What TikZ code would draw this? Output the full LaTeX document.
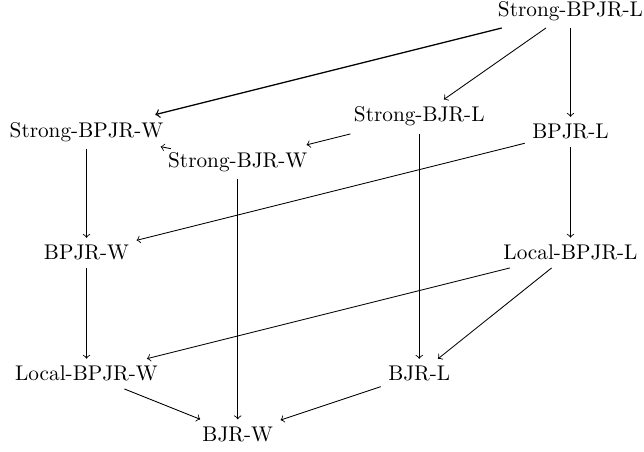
\documentclass[tikz,border=0pt]{standalone}
\begin{document}
\begin{tikzpicture}
		\useasboundingbox (-1.43,-0.276) rectangle (9.215,7.179);

		\path (8,7)      node (sbpjrl) {Strong-BPJR-L};
		\path (0,5)      node (sbpjrw) {Strong-BPJR-W};
		\path (5.5,5.25) node (sbjrl)  {Strong-BJR-L};
		\path (8,5)      node (bpjrl)  {BPJR-L};
		\path (2.5,4.5)  node (sbjrw)  {Strong-BJR-W};
		\path (0,3)      node (bpjrw)  {BPJR-W};
		\path (8,3)      node (lbpjrl) {Local-BPJR-L};
		\path (0,1)      node (lbpjrw) {Local-BPJR-W};
		\path (5.5,1)    node (bjrl)   {BJR-L};
		\path (2.5,0)    node (bjrw)   {BJR-W};

		\path[draw,->,line width=0.6pt] (sbpjrl) -- (sbpjrw);
		\path[draw,->] (sbpjrl) -- (sbjrl);
		\path[draw,->] (sbpjrl) -- (bpjrl);
		\path[draw,->] (sbpjrw) -- (sbjrw);
		\path[draw,->] (sbpjrw) -- (bpjrw);
		\path[draw,->] (sbjrl) -- (sbjrw);
		\path[draw,->] (sbjrl) -- (bjrl);
		\path[draw,->] (bpjrl) -- (bpjrw);
		\path[draw,->] (bpjrl) -- (lbpjrl);
		\path[draw,->] (sbjrw) -- (bjrw);
		\path[draw,->] (bpjrw) -- (lbpjrw);
		\path[draw,->] (lbpjrl) -- (lbpjrw);
		\path[draw,->] (lbpjrl) -- (bjrl);
		\path[draw,->] (lbpjrw) -- (bjrw);
		\path[draw,->] (bjrl) -- (bjrw);
	\end{tikzpicture}
\end{document}
